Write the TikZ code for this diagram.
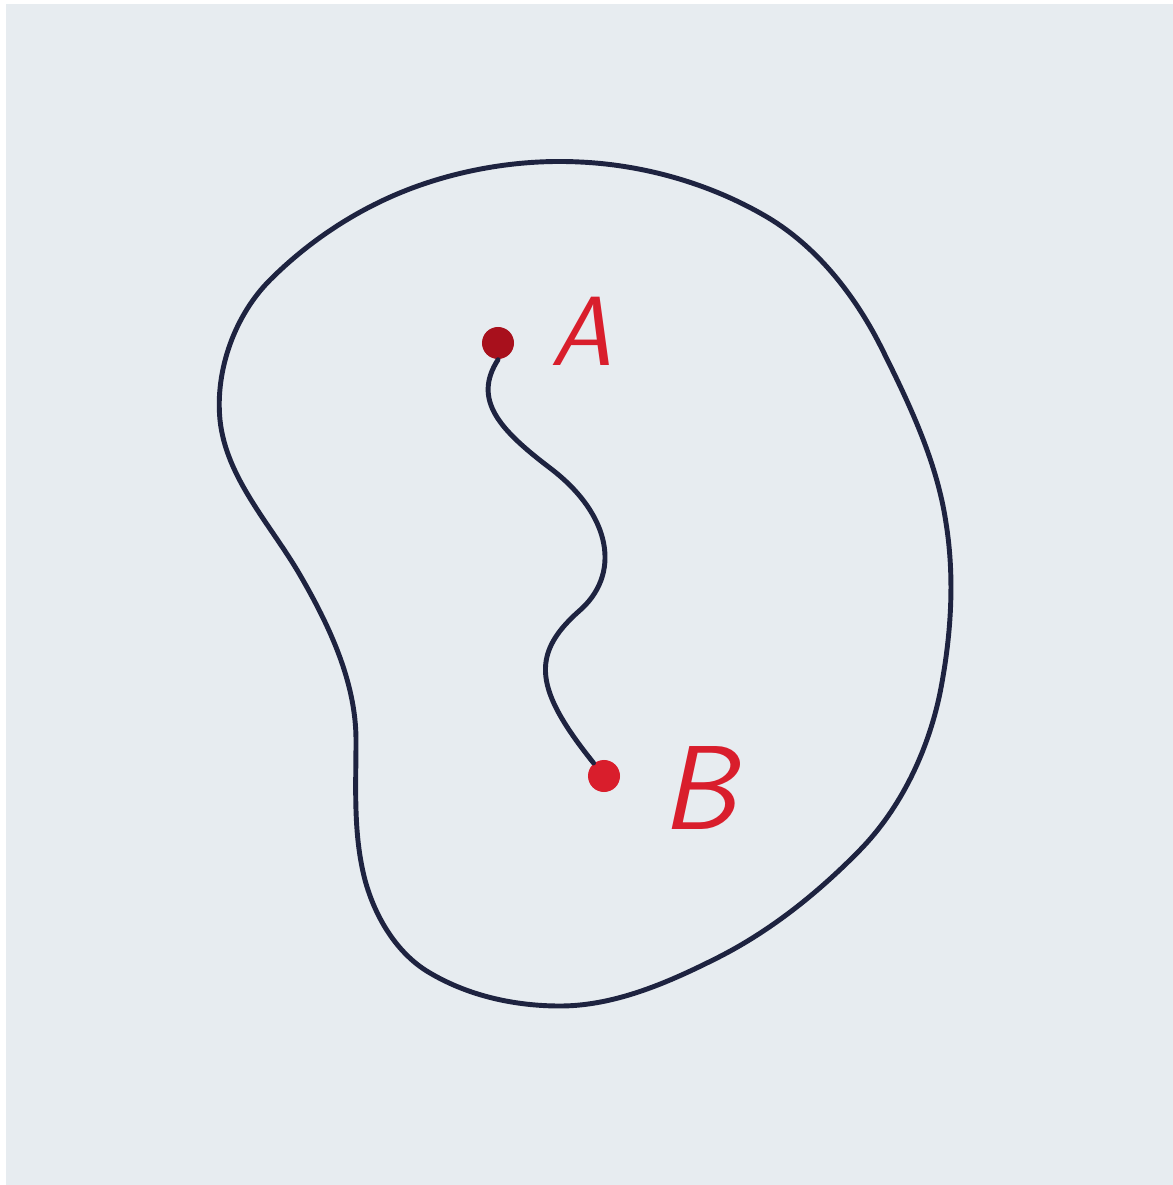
\documentclass[tikz,border=0pt]{standalone}
\usepackage{xcolor}
\usepackage{tikz}
\usetikzlibrary{positioning}

\definecolor{paper}{HTML}{E7ECF0}
\definecolor{ink}{HTML}{1E2340}
\definecolor{redink}{HTML}{D91E2C}
\definecolor{darkred}{HTML}{A8101C}

\tikzset{
    pt/.style={circle, fill=#1, inner sep=0pt, minimum size=0.32cm},
    lab/.style={text=redink, font=\sffamily\itshape\fontsize{28}{30}\selectfont, inner sep=0pt},
    wire/.style={ink, line width=1.4pt, line cap=round}
}

\begin{document}
\begin{tikzpicture}[x=0.01cm, y=-0.01cm]
    \useasboundingbox (0,0) rectangle (1173,1185);
    \fill[white] (0,0) rectangle (1173,1185);
    \fill[paper] (6,4) rectangle (1173,1185);
    % the region
    \draw[wire] (407,190) .. controls (461,169) and (522,159) .. (580,162)
        .. controls (645,165) and (711,184) .. (767,217)
        .. controls (816,246) and (854,294) .. (880,345)
        .. controls (908,401) and (937,461) .. (946,523)
        .. controls (955,579) and (951,637) .. (940,693)
        .. controls (928,751) and (901,808) .. (860,850)
        .. controls (817,894) and (768,933) .. (713,960)
        .. controls (665,984) and (613,1006) .. (560,1006)
        .. controls (515,1006) and (469,996) .. (430,973)
        .. controls (397,954) and (375,917) .. (365,880)
        .. controls (353,834) and (356,787) .. (356,740)
        .. controls (356,682) and (329,625) .. (300,575)
        .. controls (271,525) and (226,478) .. (220,420)
        .. controls (215,370) and (235,315) .. (270,280)
        .. controls (309,241) and (356,210) .. cycle;
    % the two points
    \node[pt=darkred] (a) at (498,343) {};
    \node[pt=redink] (b) at (604,776) {};
    \node[lab, right=0.35cm of a, yshift=0.12cm] (la) {A};
    \node[lab, font=\sffamily\itshape\fontsize{34}{36}\selectfont,
          right=0.4cm of b, yshift=-0.12cm] (lb) {B};
    % a path between them
    \draw[wire] (a.south) .. controls (472,400) and (500,430) .. (550,468)
        .. controls (612,515) and (622,575) .. (578,612)
        .. controls (530,655) and (535,690) .. (b);
\end{tikzpicture}
\end{document}
